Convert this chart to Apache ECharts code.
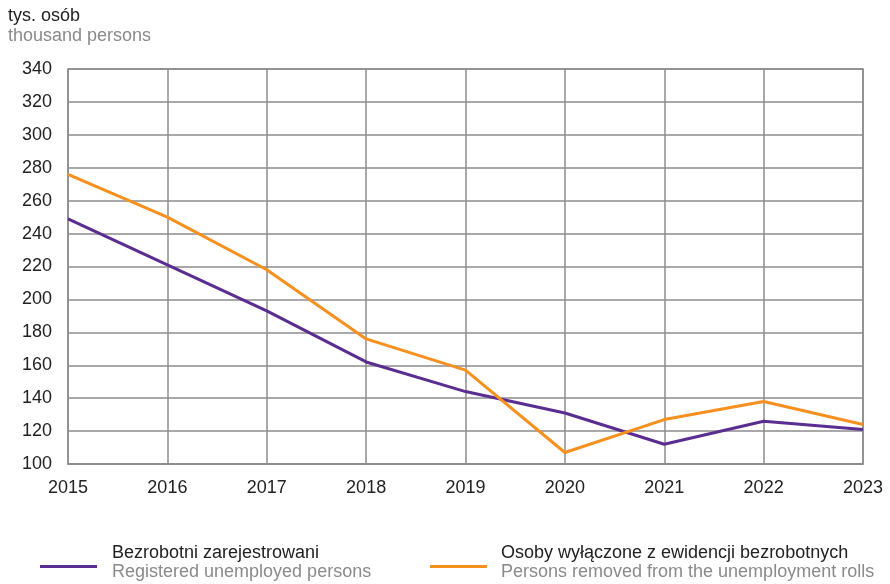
<!DOCTYPE html>
<html>
<head>
<meta charset="utf-8">
<script src="https://cdn.jsdelivr.net/npm/echarts@6/dist/echarts.min.js"></script>
<style>
  html, body { margin: 0; padding: 0; background: #fff; }
  #chart { width: 890px; height: 584px; }
</style>
</head>
<body>
<div id="chart"></div>
<script>
  var years = ['2015', '2016', '2017', '2018', '2019', '2020', '2021', '2022', '2023'];
  // bezrobotni zarejestrowani
  var registered = [249, 221, 193, 162, 144, 131, 112, 126, 121];
  // osoby wylaczone z ewidencji
  var removed = [276, 250, 218, 176, 157, 107, 127, 138, 124];

  var FONT = '"Liberation Sans", Arial, sans-serif';
  var PURPLE = '#5a2d91';
  var ORANGE = '#f7901e';

  var chart = echarts.init(document.getElementById('chart'));
  chart.setOption({
    animation: false,
    textStyle: { fontFamily: FONT },
    grid: { left: 68, right: 27, top: 69, bottom: 120, show: true, borderColor: '#8c8c8c', borderWidth: 1.5 },
    xAxis: {
      type: 'category',
      data: years,
      boundaryGap: false,
      axisLine: { show: true, lineStyle: { color: '#8c8c8c', width: 1.5 } },
      axisTick: { show: false },
      axisLabel: { color: '#222', fontSize: 18, margin: 15, fontFamily: FONT },
      splitLine: { show: true, lineStyle: { color: '#8c8c8c', width: 1.5 } }
    },
    yAxis: {
      type: 'value',
      min: 100,
      max: 340,
      interval: 20,
      axisLine: { show: false },
      axisTick: { show: false },
      axisLabel: { color: '#222', fontSize: 18, margin: 16, fontFamily: FONT },
      splitLine: { show: true, lineStyle: { color: '#8c8c8c', width: 1.5 } }
    },
    series: [
      {
        name: 'Bezrobotni zarejestrowani',
        type: 'line',
        data: registered,
        symbol: 'none',
        lineStyle: { color: PURPLE, width: 3 },
        itemStyle: { color: PURPLE }
      },
      {
        name: 'Osoby wyłączone z ewidencji bezrobotnych',
        type: 'line',
        data: removed,
        symbol: 'none',
        lineStyle: { color: ORANGE, width: 3 },
        itemStyle: { color: ORANGE }
      }
    ],
    graphic: [
      { type: 'text', left: 8, top: 7, style: { text: 'tys. osób', fill: '#222', font: '18px ' + FONT } },
      { type: 'text', left: 8, top: 27, style: { text: 'thousand persons', fill: '#8a8a8a', font: '18px ' + FONT } },

      { type: 'rect', shape: { x: 40, y: 565, width: 57, height: 3 }, style: { fill: PURPLE } },
      { type: 'text', left: 112, top: 544, style: { text: 'Bezrobotni zarejestrowani', fill: '#222', font: '18px ' + FONT } },
      { type: 'text', left: 112, top: 563, style: { text: 'Registered unemployed persons', fill: '#8a8a8a', font: '18px ' + FONT } },

      { type: 'rect', shape: { x: 430, y: 565, width: 57, height: 3 }, style: { fill: ORANGE } },
      { type: 'text', left: 501, top: 544, style: { text: 'Osoby wyłączone z ewidencji bezrobotnych', fill: '#222', font: '18px ' + FONT } },
      { type: 'text', left: 501, top: 563, style: { text: 'Persons removed from the unemployment rolls', fill: '#8a8a8a', font: '18px ' + FONT } }
    ]
  });
</script>
</body>
</html>
